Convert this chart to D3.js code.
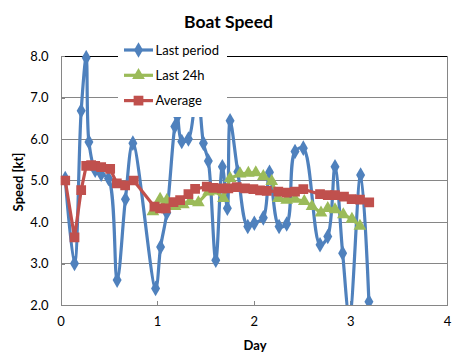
<!DOCTYPE html>
<html><head><meta charset="utf-8">
<script src="https://cdn.jsdelivr.net/npm/d3@7"></script>
<style>body{margin:0;background:#fff}svg{display:block}text{font-family:Lato,"Open Sans",sans-serif}</style>
</head><body>
<svg id="c" width="461" height="359"></svg>
<script>
const title = "Boat Speed";
const xTicks = [0, 1, 2, 3, 4];
const yTicks = [2, 3, 4, 5, 6, 7, 8];
const seriesNames = ["Last period", "Last 24h", "Average"];

const lastPeriodDay = [0.049,0.145,0.214,0.266,0.294,0.359,0.421,0.497,0.586,0.672,0.749,0.984,1.036,1.100,1.183,1.209,1.255,1.324,1.414,1.479,1.530,1.607,1.675,1.727,1.755,1.835,1.938,2.006,2.099,2.163,2.262,2.341,2.427,2.513,2.686,2.766,2.841,2.920,2.991,3.106,3.192];
const lastPeriodVal = [5.05,3.0,6.68,7.96,5.93,5.25,5.15,5.05,2.6,4.55,5.9,2.4,3.4,4.22,6.3,6.55,5.94,6.0,7.3,5.9,5.47,3.08,5.33,4.33,6.44,5.21,3.89,3.97,4.1,5.2,3.89,3.95,5.7,5.78,3.45,3.65,5.33,3.25,1.7,5.13,2.08];

const last24Day = [0.956,1.031,1.100,1.186,1.272,1.341,1.427,1.531,1.600,1.686,1.755,1.859,1.944,2.021,2.099,2.186,2.254,2.341,2.427,2.523,2.603,2.696,2.766,2.841,2.927,3.016,3.099];
const last24Val = [4.25,4.55,4.52,4.38,4.42,4.5,4.47,4.73,4.75,4.57,5.05,5.16,5.18,5.19,5.1,4.98,4.57,4.53,4.55,4.5,4.38,4.22,4.33,4.3,4.18,4.07,3.9];

const avgDay = [0.049,0.145,0.214,0.266,0.317,0.359,0.421,0.514,0.583,0.669,0.757,0.972,1.031,1.090,1.169,1.238,1.324,1.393,1.514,1.582,1.669,1.737,1.824,1.910,1.996,2.065,2.134,2.254,2.341,2.427,2.513,2.686,2.766,2.841,2.934,3.013,3.099,3.195];
const avgVal = [5.0,3.63,4.77,5.35,5.37,5.35,5.32,5.28,4.93,4.88,5.0,4.37,4.33,4.33,4.48,4.53,4.67,4.8,4.85,4.82,4.81,4.81,4.84,4.81,4.79,4.76,4.75,4.73,4.71,4.73,4.79,4.67,4.65,4.65,4.61,4.55,4.54,4.47];

const colors = ["#4F81BD", "#9BBB59", "#C0504D"];
const svg = d3.select("#c");
const L = 60.5, R = 447, T = 56, B = 305;
const x = d3.scaleLinear().domain([0, 4]).range([L, R]);
const y = d3.scaleLinear().domain([2, 8]).range([B, T]);

// gridlines
svg.append("g").selectAll("line").data(yTicks.filter(v => v > 2)).join("line")
  .attr("x1", L).attr("x2", R).attr("y1", d => y(d)).attr("y2", d => y(d))
  .attr("stroke", d => d === 8 ? "#000" : "#868686").attr("stroke-width", 1).attr("shape-rendering", "crispEdges");
// right border
svg.append("line").attr("x1", R).attr("x2", R).attr("y1", T).attr("y2", B).attr("stroke", "#868686").attr("shape-rendering", "crispEdges");

// axes
const xAxis = d3.axisBottom(x).tickValues(xTicks).tickFormat(d3.format("d")).tickSizeInner(-4).tickSizeOuter(0).tickPadding(12);
const gx = svg.append("g").attr("transform", `translate(0,${B})`).call(xAxis);
const yAxis = d3.axisLeft(y).tickValues(yTicks).tickFormat(d3.format(".1f")).tickSizeInner(-4).tickSizeOuter(0).tickPadding(12);
const gy = svg.append("g").attr("transform", `translate(${L},0)`).call(yAxis);
[gx, gy].forEach(g => {
  g.select(".domain").attr("stroke", "#868686").attr("shape-rendering", "crispEdges");
  g.selectAll(".tick line").attr("stroke", "#868686").attr("shape-rendering", "crispEdges");
  g.selectAll("text").attr("font-family", "Lato").attr("font-size", 13).attr("fill", "#000");
});

// clip
svg.append("clipPath").attr("id", "clip").append("rect").attr("x", L).attr("y", T - 6).attr("width", R - L).attr("height", B - T + 6);
const plot = svg.append("g").attr("clip-path", "url(#clip)");

const seriesData = [
  lastPeriodDay.map((d, i) => [d, lastPeriodVal[i]]),
  last24Day.map((d, i) => [d, last24Val[i]]),
  avgDay.map((d, i) => [d, avgVal[i]])
];
const curves = [d3.curveCatmullRom.alpha(0.5), d3.curveLinear, d3.curveLinear];
const symbols = [d3.symbolDiamond, d3.symbolTriangle, d3.symbolSquare];
const sizes = [70, 70, 95];

seriesData.forEach((data, i) => {
  const line = d3.line().x(d => x(d[0])).y(d => y(d[1])).curve(curves[i]);
  plot.append("path").datum(data).attr("d", line).attr("fill", "none")
    .attr("stroke", colors[i]).attr("stroke-width", 3.2).attr("stroke-linejoin", "round");
  plot.append("g").selectAll("path").data(data).join("path")
    .attr("transform", d => `translate(${x(d[0])},${y(d[1])})`)
    .attr("d", d3.symbol().type(symbols[i]).size(sizes[i])).attr("fill", colors[i]);
});

// legend
const lg = svg.append("g");
lg.append("rect").attr("x", 118).attr("y", 38).attr("width", 109).attr("height", 79).attr("fill", "#fff");
seriesNames.forEach((n, i) => {
  const yy = 50 + i * 25.3;
  lg.append("line").attr("x1", 124).attr("x2", 153).attr("y1", yy).attr("y2", yy).attr("stroke", colors[i]).attr("stroke-width", 3.2);
  lg.append("path").attr("transform", `translate(138.5,${yy})`).attr("d", d3.symbol().type(symbols[i]).size(sizes[i])).attr("fill", colors[i]);
  lg.append("text").attr("x", 155.5).attr("y", yy + 4.5).attr("font-size", 13).text(n);
});

// titles
svg.append("text").attr("x", 228.5).attr("y", 28).attr("text-anchor", "middle").attr("font-size", 17.5).attr("font-weight", "bold").text(title);
svg.append("text").attr("x", 255).attr("y", 350).attr("text-anchor", "middle").attr("font-size", 13).attr("font-weight", "bold").text("Day");
svg.append("text").attr("transform", "translate(23,182) rotate(-90)").attr("text-anchor", "middle").attr("font-size", 13).attr("font-weight", "bold").text("Speed [kt]");
</script>
</body></html>
